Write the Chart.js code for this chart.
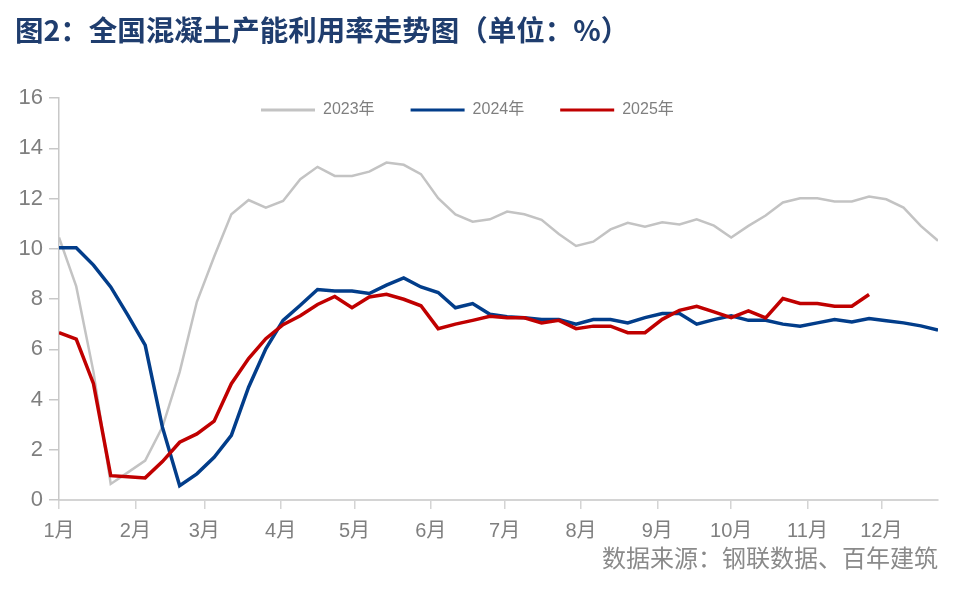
<!DOCTYPE html>
<html><head><meta charset="utf-8">
<script src="https://cdn.jsdelivr.net/npm/chart.js@4.4.1/dist/chart.umd.min.js"></script>
<style>html,body{margin:0;padding:0;background:#fff;}canvas{display:block;}</style>
</head><body>
<canvas id="c" width="960" height="596"></canvas>
<script>
const titleText = '图2：全国混凝土产能利用率走势图（单位：%）';
const sourceText = '数据来源：钢联数据、百年建筑';
const seriesNames = ['2023年', '2024年', '2025年'];
const monthLabels = ['1月','2月','3月','4月','5月','6月','7月','8月','9月','10月','11月','12月'];
const monthStartDay = [0,31,59,90,120,151,181,212,243,273,304,334];
const yTicks = [0,2,4,6,8,10,12,14,16];
const DAYS_PER_POINT = 7;

const y2023 = [10.45,8.5,5.1,0.64,1.1,1.57,2.9,5.09,7.89,9.68,
  11.37,11.94,11.64,11.9,12.77,13.26,12.9,12.9,13.07,13.43,
  13.34,12.97,12.01,11.37,11.08,11.17,11.48,11.37,11.15,10.59,
  10.11,10.28,10.77,11.03,10.88,11.05,10.97,11.17,10.92,10.45,
  10.91,11.32,11.84,12.01,12.01,11.88,11.88,12.08,11.97,11.64,
  10.91,10.32];
const y2024 = [10.04,10.04,9.35,8.48,7.35,6.16,2.9,0.57,1.04,1.7,
  2.57,4.49,6.02,7.15,7.75,8.38,8.32,8.32,8.22,8.55,
  8.84,8.48,8.26,7.65,7.82,7.39,7.29,7.25,7.18,7.18,
  7.0,7.18,7.18,7.05,7.26,7.42,7.42,7.0,7.18,7.33,
  7.15,7.15,7.0,6.92,7.05,7.18,7.09,7.22,7.13,7.05,
  6.93,6.76];
const y2025 = [6.66,6.4,4.63,0.97,0.93,0.88,1.53,2.3,2.63,3.14,
  4.63,5.63,6.42,6.98,7.33,7.78,8.1,7.65,8.08,8.19,
  7.99,7.73,6.82,7.0,7.15,7.31,7.25,7.25,7.05,7.15,
  6.82,6.92,6.92,6.66,6.66,7.19,7.55,7.71,7.49,7.26,
  7.53,7.25,8.02,7.82,7.82,7.71,7.71,8.18];

const toPoints = arr => arr.map((v, i) => ({x: i * DAYS_PER_POINT, y: v}));
const lastDay = (y2023.length - 1) * DAYS_PER_POINT;

Chart.defaults.font.family = "'Liberation Sans','Noto Sans CJK SC',sans-serif";
Chart.defaults.color = '#7f7f7f';

// place the legend inside the plot area, near its top
const legendMover = {
  id: 'legendMover',
  afterLayout(chart) {
    const lg = chart.legend;
    const pad = lg.options.labels.padding;
    const ca = chart.chartArea;
    lg.left = ca.left + 202 - pad;
    lg.right = chart.width;
    lg.top = ca.top + 4 - pad;
    lg.bottom = ca.top + 40;
  }
};

new Chart(document.getElementById('c'), {
  type: 'line',
  data: {
    datasets: [
      {label: seriesNames[0], data: toPoints(y2023), borderColor: '#c3c3c3', backgroundColor: '#c3c3c3', borderWidth: 2.5, order: 3},
      {label: seriesNames[1], data: toPoints(y2024), borderColor: '#023d8a', backgroundColor: '#023d8a', borderWidth: 3.5, order: 2},
      {label: seriesNames[2], data: toPoints(y2025), borderColor: '#c00000', backgroundColor: '#c00000', borderWidth: 3.5, order: 1}
    ]
  },
  options: {
    responsive: false,
    animation: false,
    devicePixelRatio: 1,
    elements: {point: {radius: 0, hoverRadius: 0}, line: {tension: 0, borderCapStyle: 'butt', borderJoinStyle: 'miter'}},
    layout: {padding: {left: 15, right: 22, top: 0, bottom: 23.6}},
    plugins: {
      tooltip: {enabled: false},
      title: {
        display: true, text: titleText, align: 'start', color: '#1f3d6e',
        font: {size: 28.5, weight: 'bold', family: "'Noto Sans CJK SC',sans-serif"},
        padding: {top: 13, bottom: 49.8}
      },
      subtitle: {
        display: true, text: sourceText, position: 'bottom', align: 'end', color: '#8a8a8a',
        font: {size: 24, weight: 'normal', family: "'Noto Sans CJK SC',sans-serif"},
        padding: {top: 0, bottom: 0}
      },
      legend: {
        display: true, position: 'top', align: 'start', maxHeight: 1,
        labels: {
          boxWidth: 54, boxHeight: 3, padding: 36, color: '#7f7f7f',
          font: {size: 16},
          sort: (a, b) => a.datasetIndex - b.datasetIndex,
          generateLabels: chart => chart.data.datasets.map((ds, i) => ({
            text: ds.label, fillStyle: ds.borderColor, strokeStyle: ds.borderColor,
            lineWidth: 0, hidden: false, datasetIndex: i, fontColor: '#7f7f7f'
          }))
        }
      }
    },
    scales: {
      x: {
        type: 'linear', min: 0, max: lastDay,
        afterBuildTicks: s => { s.ticks = monthStartDay.map(v => ({value: v})); },
        afterFit: s => { s.height = 43.6; },
        ticks: {autoSkip: false, maxRotation: 0, padding: 10.5, color: '#7f7f7f', font: {size: 20},
          callback: (v, i) => monthLabels[i]},
        grid: {drawOnChartArea: false, drawTicks: true, tickLength: 9, color: '#d4d4d4', lineWidth: 1.5},
        border: {display: true, color: '#d4d4d4', width: 2}
      },
      y: {
        min: 0, max: 16,
        afterBuildTicks: s => { s.ticks = yTicks.map(v => ({value: v})); },
        afterFit: s => { s.width = 44; },
        ticks: {padding: 6, color: '#7f7f7f', font: {size: 22}},
        grid: {drawOnChartArea: false, drawTicks: true, tickLength: 10, color: '#c8c8c8', lineWidth: 1.5},
        border: {display: true, color: '#c8c8c8', width: 1.5}
      }
    }
  },
  plugins: [legendMover]
});
</script>
</body></html>
